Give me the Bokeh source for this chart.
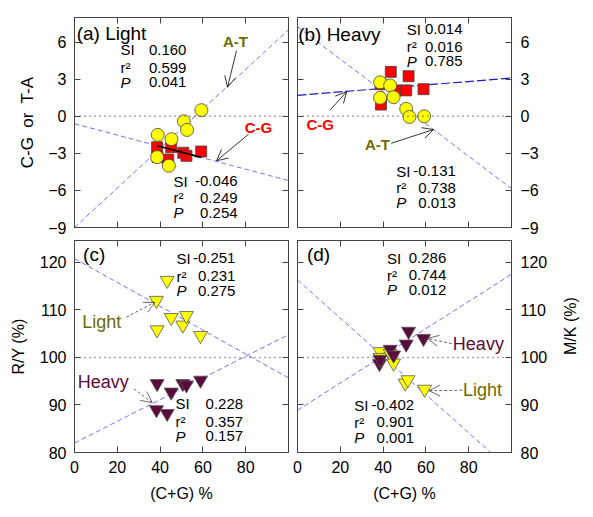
import numpy as np
from bokeh.plotting import figure
from bokeh.models import Range1d, LinearAxis, FixedTicker, Label, Arrow, OpenHead, Span
from bokeh.layouts import column, row
from bokeh.embed import file_html
from bokeh.resources import INLINE

FONT = "Liberation Sans"
OLIVE = "#6e6a00"
PURPLE = "#5a0a3c"
RED = "#ff0000"
YELLOW = "#ffff00"

# ---------------- data ----------------
x_ticks = [0, 20, 40, 60, 80]
top_y_ticks = [-9, -6, -3, 0, 3, 6]
bottom_y_ticks = [80, 90, 100, 110, 120]

# (a) Light strand skews
a_at_x = [38.9, 38.6, 44.1, 45.3, 51.1, 52.6, 59.3]
a_at_y = [-1.5, -3.3, -4.0, -1.85, -0.4, -1.1, 0.5]
a_cg_x = [38.6, 38.8, 43.8, 45.2, 50.8, 52.3, 59.2]
a_cg_y = [-2.5, -3.3, -3.5, -2.5, -2.95, -3.2, -2.85]
a_at_stats = [0.160, 0.599, 0.041]
a_cg_stats = [-0.046, 0.249, 0.254]
a_at_icpt = -9.0
a_cg_icpt = -0.6

# (b) Heavy strand skews
b_at_x = [38.6, 38.6, 43.3, 44.9, 50.8, 52.3, 59.2]
b_at_y = [2.75, 1.5, 2.5, 1.55, 0.6, -0.05, 0.0]
b_cg_x = [39.0, 38.8, 43.6, 46.0, 50.8, 51.9, 58.9]
b_cg_y = [0.95, 2.6, 3.6, 2.1, 2.1, 3.25, 2.2]
b_cg_stats = [0.014, 0.016, 0.785]
b_at_stats = [-0.131, 0.738, 0.013]
b_cg_icpt = 1.7
b_at_icpt = 7.25

# (c) R/Y
c_light_x = [38.3, 38.6, 43.3, 45.2, 50.6, 52.3, 58.9]
c_light_y = [112.0, 105.8, 116.2, 108.4, 106.8, 108.8, 104.6]
c_heavy_x = [38.3, 38.6, 43.3, 45.2, 50.6, 52.3, 58.9]
c_heavy_y = [89.0, 94.5, 88.2, 92.7, 94.5, 94.2, 95.2]
c_light_stats = [-0.251, 0.231, 0.275]
c_heavy_stats = [0.228, 0.357, 0.157]
c_light_icpt = 120.8
c_heavy_icpt = 82.0

# (d) M/K
d_light_x = [38.6, 38.6, 43.3, 44.9, 50.3, 51.6, 59.4]
d_light_y = [101.2, 100.0, 100.8, 98.8, 94.6, 95.3, 93.3]
d_heavy_x = [38.3, 38.6, 43.3, 44.9, 50.8, 51.9, 58.9]
d_heavy_y = [98.7, 99.6, 101.7, 100.5, 102.8, 105.5, 104.0]
d_heavy_stats = [0.286, 0.744, 0.012]
d_light_stats = [-0.402, 0.901, 0.001]
d_heavy_icpt = 88.9
d_light_icpt = 116.3

X_END = 100


def add_axis(p, side, ticks, labels=False, title=None, standoff=8, title_standoff=8, title_size="16px"):
    ax = LinearAxis(ticker=FixedTicker(ticks=ticks))
    ax.major_tick_in = 6
    ax.major_tick_out = 0
    ax.minor_tick_line_color = None
    ax.axis_line_color = "#444444"
    ax.major_tick_line_color = "#444444"
    ax.major_label_text_font = FONT
    ax.major_label_text_color = "black"
    ax.major_label_text_font_size = "16px"
    if labels:
        ax.major_label_standoff = standoff
    else:
        ax.major_label_overrides = {t: "" for t in ticks}
        ax.major_label_standoff = 0
    if title:
        ax.axis_label = title
        ax.axis_label_text_font = FONT
        ax.axis_label_text_font_size = title_size
        ax.axis_label_text_font_style = "normal"
        ax.axis_label_text_color = "black"
        ax.axis_label_standoff = title_standoff
    p.add_layout(ax, side)
    return ax


def make_fig(yr, w, h, mbl, mbr, mbt, mbb, xr=(0, X_END)):
    p = figure(width=w, height=h, x_range=Range1d(*xr), y_range=Range1d(*yr),
               output_backend="svg", toolbar_location=None,
               x_axis_location=None, y_axis_location=None,
               min_border_left=mbl, min_border_right=mbr,
               min_border_top=mbt, min_border_bottom=mbb)
    p.grid.grid_line_color = None
    p.outline_line_color = "#444444"
    p.background_fill_color = "white"
    p.border_fill_color = "white"
    return p


def reg_line(p, slope, icpt, color="#4646ff", width=0.9, dash="5 3", alpha=0.85):
    xs = np.array([0.0, X_END])
    p.line(xs, icpt + slope * xs, line_color=color, line_width=width, line_dash=dash, line_alpha=alpha)


def txt(p, x, y, text, size="15px", color="black", align="left", style="normal", angle=0):
    p.add_layout(Label(x=x, y=y, text=text, text_font=FONT, text_font_size=size,
                       text_color=color, text_align=align, text_baseline="middle",
                       text_font_style=style, angle=angle))


def stats(p, xl, xr, ys, vals):
    names = ["SI", "r\u00b2", "P"]
    for name, yv, v in zip(names, ys, vals):
        txt(p, xl, yv, name, style="italic" if name == "P" else "normal")
        txt(p, xr, yv, f"{v:.3f}", align="right")


def arrow(p, x0, y0, x1, y1, dash="solid", color="black"):
    p.add_layout(Arrow(end=OpenHead(size=11, line_width=0.8, line_color=color),
                       x_start=x0, y_start=y0, x_end=x1, y_end=y1,
                       line_width=0.8, line_color=color, line_dash=dash))


zero_line = dict(dimension="width", line_color="#555555", line_dash="1 4", line_width=1.5)

ML, MT = 74, 17  # left and top offsets of the plot frames on the page
TOP_H = MT + 210 + 10   # top row figure height (frame 210)
BOT_H = 3 + 212 + 60    # bottom row figure height (frame 212)

# ---------------- panel (a) ----------------
pa = make_fig((-9, 8), ML + 218, TOP_H, ML, 4, MT, 10)
add_axis(pa, "left", top_y_ticks, labels=True, title="C-G\u00a0 or\u00a0 T-A", title_size="17px")
add_axis(pa, "right", top_y_ticks)
add_axis(pa, "above", x_ticks)
add_axis(pa, "below", x_ticks)
pa.add_layout(Span(location=0, **zero_line))
reg_line(pa, a_at_stats[0], a_at_icpt)
reg_line(pa, a_cg_stats[0], a_cg_icpt)
pa.scatter(a_cg_x, a_cg_y, marker="square", size=11, fill_color=RED, line_color="#444444", line_width=0.8)
seg_x = np.array([min(a_cg_x), max(a_cg_x)])
pa.line(seg_x, a_cg_icpt + a_cg_stats[0] * seg_x, line_color="black", line_width=1.6)
pa.scatter(a_at_x, a_at_y, marker="circle", size=13, fill_color=YELLOW, line_color="#444444", line_width=0.8)
txt(pa, 1.0, 6.7, "(a) Light", size="19px")
stats(pa, 21.5, 52.3, [5.4, 3.95, 2.75], a_at_stats)
stats(pa, 46.3, 76.2, [-5.25, -6.6, -7.8], a_cg_stats)
txt(pa, 75.2, 6.05, "A-T", size="15px", color=OLIVE, align="center", style="bold")
txt(pa, 86.0, -0.9, "C-G", size="15px", color=RED, align="center", style="bold")
arrow(pa, 75.7, 5.3, 71.5, 2.35)
arrow(pa, 81.3, -1.45, 66.4, -3.6)

# ---------------- panel (b) ----------------
pb = make_fig((-9, 8), 259, TOP_H, 5, 40, MT, 10)
add_axis(pb, "left", top_y_ticks)
add_axis(pb, "right", top_y_ticks, labels=True, standoff=9)
add_axis(pb, "above", x_ticks)
add_axis(pb, "below", x_ticks)
pb.add_layout(Span(location=0, **zero_line))
reg_line(pb, b_at_stats[0], b_at_icpt)
reg_line(pb, b_cg_stats[0], b_cg_icpt, color="#0000c0", width=1.2, dash="9 3", alpha=0.9)
pb.scatter(b_cg_x, b_cg_y, marker="square", size=11, fill_color=RED, line_color="#444444", line_width=0.8)
pb.scatter(b_at_x, b_at_y, marker="circle", size=13, fill_color=YELLOW, line_color="#444444", line_width=0.8)
txt(pb, 0.3, 6.6, "(b) Heavy", size="19px")
stats(pb, 51.1, 77.1, [7.05, 5.65, 4.45], b_cg_stats)
stats(pb, 46.1, 74.0, [-4.45, -5.8, -7.0], b_at_stats)
txt(pb, 10.6, -0.65, "C-G", size="15px", color=RED, align="center", style="bold")
txt(pb, 37.4, -2.25, "A-T", size="15px", color=OLIVE, align="center", style="bold")
arrow(pb, 15.2, 0.5, 23.0, 2.0)
arrow(pb, 43.8, -2.18, 63.6, -1.07)

# ---------------- panel (c) ----------------
pc = make_fig((80, 124.6), ML + 218, BOT_H, ML, 4, 3, 60)
add_axis(pc, "left", bottom_y_ticks, labels=True, title="R/Y (%)", title_standoff=10)
add_axis(pc, "right", bottom_y_ticks)
add_axis(pc, "above", x_ticks)
add_axis(pc, "below", x_ticks, labels=True, title="(C+G) %", title_standoff=9)
pc.add_layout(Span(location=100, **zero_line))
reg_line(pc, c_light_stats[0], c_light_icpt)
reg_line(pc, c_heavy_stats[0], c_heavy_icpt)
pc.scatter(c_light_x, c_light_y, marker="inverted_triangle", size=14, fill_color=YELLOW, line_color="#555555", line_width=0.8)
pc.scatter(c_heavy_x, c_heavy_y, marker="inverted_triangle", size=14, fill_color=PURPLE, line_color="#555555", line_width=0.8)
txt(pc, 4.0, 121.6, "(c)", size="19px")
stats(pc, 47.7, 75.2, [120.9, 117.1, 114.0], c_light_stats)
stats(pc, 47.2, 78.8, [90.3, 86.5, 83.4], c_heavy_stats)
txt(pc, 3.6, 107.5, "Light", size="18px", color=OLIVE)
txt(pc, 1.5, 94.8, "Heavy", size="18px", color=PURPLE)
arrow(pc, 24.3, 108.5, 37.6, 111.6, dash="3 2", color="#444444")
arrow(pc, 27.7, 93.4, 36.3, 90.5, dash="3 2", color="#444444")

# ---------------- panel (d) ----------------
pd_ = make_fig((80, 124.6), 259, BOT_H, 5, 40, 3, 60)
add_axis(pd_, "left", bottom_y_ticks)
add_axis(pd_, "right", bottom_y_ticks, labels=True, standoff=9)
add_axis(pd_, "above", x_ticks)
add_axis(pd_, "below", x_ticks, labels=True, title="(C+G) %", title_standoff=9)
pd_.add_layout(Span(location=100, **zero_line))
reg_line(pd_, d_heavy_stats[0], d_heavy_icpt)
reg_line(pd_, d_light_stats[0], d_light_icpt)
pd_.scatter(d_light_x, d_light_y, marker="inverted_triangle", size=14, fill_color=YELLOW, line_color="#555555", line_width=0.8)
pd_.scatter(d_heavy_x, d_heavy_y, marker="inverted_triangle", size=14, fill_color=PURPLE, line_color="#555555", line_width=0.8)
txt(pd_, 4.4, 121.6, "(d)", size="19px")
stats(pd_, 41.8, 69.5, [120.9, 117.3, 114.2], d_heavy_stats)
stats(pd_, 26.5, 54.5, [89.9, 86.4, 83.1], d_light_stats)
txt(pd_, 72.6, 102.8, "Heavy", size="18px", color=PURPLE)
txt(pd_, 77.3, 93.1, "Light", size="18px", color=OLIVE)
arrow(pd_, 72.1, 102.9, 60.8, 104.0, dash="3 2", color="#444444")
arrow(pd_, 77.0, 93.1, 61.5, 93.0, dash="3 2", color="#444444")

# narrow strip to the right of (d) carrying its rotated axis title
pt = make_fig((0, BOT_H), 40, BOT_H, 0, 0, 0, 0, xr=(0, 40))
pt.outline_line_color = None
txt(pt, 19, BOT_H - (348 - TOP_H), "M/K (%)", size="16px", align="center", angle=np.pi / 2)

layout = column(row(pa, pb), row(pc, pd_, pt))
open("out.html", "w").write(file_html(layout, INLINE))
